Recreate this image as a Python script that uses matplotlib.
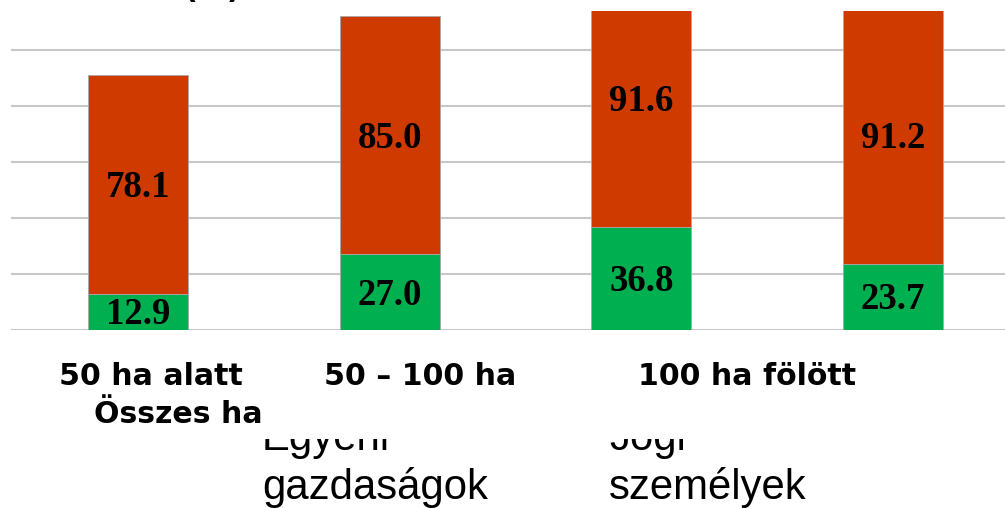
import matplotlib
matplotlib.use("Agg")
import matplotlib.pyplot as plt
from matplotlib.transforms import Bbox, offset_copy

W, H = 1005, 508
DPI = 100

categories = ["50 ha alatt", "50 – 100 ha", "100 ha fölött", "Összes ha"]
green_values = [12.9, 27.0, 36.8, 23.7]
red_values = [78.1, 85.0, 91.6, 91.2]
group_labels = [["Egyéni", "gazdaságok"], ["Jogi", "személyek"]]
unit_label = "(%)"

GREEN = "#00B050"
RED = "#CF3A00"
GRID = "#c8c8c8"

fig = plt.figure(figsize=(W / DPI, H / DPI), dpi=DPI)
fig.patch.set_facecolor("white")

def fx(px):
    return px / W

def fy(py):
    return 1 - py / H

ax = fig.add_axes([fx(11), fy(330), 1 - fx(11), fy(11) - fy(330)])
x = list(range(len(green_values)))
b1 = ax.bar(x, green_values, width=0.397, color=GREEN, edgecolor="#a8a8a8",
            linewidth=0.6, zorder=2)
b2 = ax.bar(x, red_values, width=0.397, bottom=green_values, color=RED,
            edgecolor="#a8a8a8", linewidth=0.6, zorder=2)
ax.set_xlim(-0.5046, 3.445)
ax.set_ylim(0, 113.9)
ax.set_yticks([0, 20, 40, 60, 80, 100])
ax.yaxis.grid(True, color=GRID, linewidth=1.5, zorder=0)
ax.set_axisbelow(True)
for s in ax.spines.values():
    s.set_visible(False)
ax.tick_params(left=False, bottom=False, labelleft=False, labelbottom=False)

valfont = dict(family="Liberation Serif", weight="bold", size=26.5, color="black")
tr = offset_copy(ax.transData, fig=fig, x=0, y=-3, units="dots")
for xi, g, r in zip(x, green_values, red_values):
    ax.text(xi, g / 2, f"{g:.1f}", ha="center", va="center", transform=tr,
            zorder=3, **valfont)
    ax.text(xi, g + r / 2, f"{r:.1f}", ha="center", va="center", transform=tr,
            zorder=3, **valfont)

# unit label at the top, mostly cut off
fig.text(fx(212), fy(-2.5), unit_label, ha="center", va="baseline",
         family="DejaVu Sans", weight="bold", size=21.6)

# category labels
catfont = dict(family="DejaVu Sans", weight="bold", size=21.6, color="black")
cat_pos = [(151, 385), (420, 385), (747, 385), (178, 423)]
for lab, (px, py) in zip(categories, cat_pos):
    fig.text(fx(px), fy(py), lab, ha="center", va="baseline", zorder=5, **catfont)

# group labels (top line partly hidden)
clip = Bbox.from_extents(0, 0, W, H - 439)
grpfont = dict(family="Liberation Sans", size=30.2, color="black")
for lines, left in zip(group_labels, (262, 609)):
    t1 = fig.text(fx(left), fy(450), lines[0], ha="left", va="baseline", **grpfont)
    t1.set_clip_on(True)
    t1.set_clip_box(clip)
    fig.text(fx(left), fy(499), lines[1], ha="left", va="baseline", **grpfont)

fig.savefig("out.png", dpi=DPI)
